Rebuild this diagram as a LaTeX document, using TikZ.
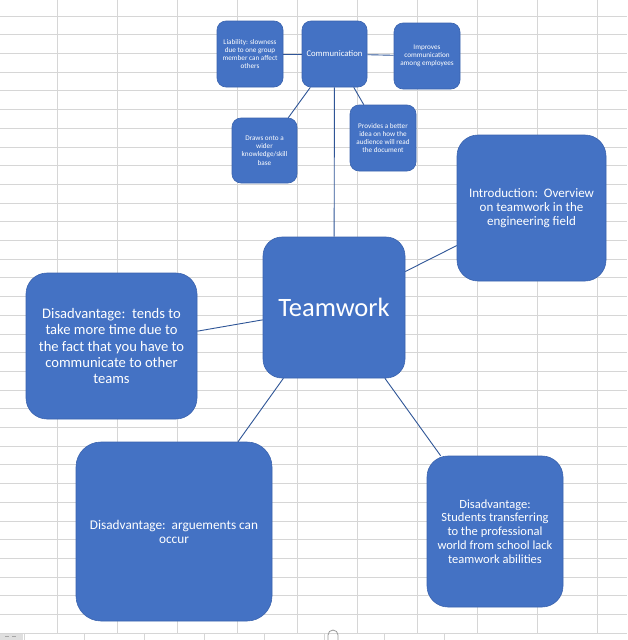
\documentclass[tikz,border=0pt]{standalone}
\usepackage{fontspec}
\setmainfont{Carlito}
\definecolor{boxblue}{HTML}{4472C4}
\definecolor{edgeblue}{HTML}{3A63AE}
\definecolor{linkblue}{HTML}{2F5597}
\definecolor{gridgray}{HTML}{D6D6D6}
\begin{document}
\begin{tikzpicture}[x=1pt,y=-1pt,
  sbox/.style={draw=edgeblue, line width=0.6pt, fill=boxblue, text=white, align=center,
    inner sep=0pt, rounded corners=9pt, font={\fontsize{7.2}{8.2}\selectfont}},
  bbox/.style={draw=edgeblue, line width=0.6pt, fill=boxblue, text=white, align=center,
    inner sep=0pt, rounded corners=21pt},
  link/.style={draw=linkblue, line width=0.9pt},
  grid line/.style={draw=gridgray, line width=0.8pt}]
\useasboundingbox (0,0) rectangle (627,640);
\fill[white] (0,0) rectangle (627,640);
% spreadsheet grid
\foreach \k in {0,...,33} {\draw[grid line] (0,16+18.7*\k) -- (627,16+18.7*\k);}
\foreach \k in {0,...,9} {\draw[grid line] (57+60*\k,0) -- (57+60*\k,633);}
% bottom bar
\fill[white] (0,634) rectangle (627,640);
\draw[grid line] (0,633.5) -- (444,633.5);
\foreach \k in {0,...,7} {\draw[grid line] (24+60*\k,633.5) -- (24+60*\k,640);}
\fill[gray!25] (0,634) rectangle (23,640);
\draw[gray!70, line width=0.8pt] (5,636.5) -- (9,636.5) (12,636.5) -- (16,636.5);
\draw[gray!80, line width=0.8pt] (328,640) -- (328,635) arc[start angle=180, end angle=0, x radius=5, y radius=-5] -- (338,640);
% top boxes
\node[sbox, minimum width=66pt, minimum height=66pt] (liab) at (250,54)
  {Liability: slowness\\due to one group\\member can affect\\others};
\node[sbox, minimum width=65pt, minimum height=66pt, font={\fontsize{8.7}{10}\selectfont}] (comm) at (334.5,54)
  {Communication};
\node[sbox, minimum width=66pt, minimum height=66pt] (impr) at (427,56)
  {Improves\\communication\\among employees};
\node[sbox, minimum width=65pt, minimum height=65pt] (draws) at (264.5,150.5)
  {Draws onto a\\wider\\knowledge/skill\\base};
\node[sbox, minimum width=66pt, minimum height=66pt] (prov) at (383,138)
  {Provides a better\\idea on how the\\audience will read\\the document};
% large boxes
\node[bbox, minimum width=149pt, minimum height=146pt, font={\fontsize{13}{13.8}\selectfont}] (intro) at (531.5,208)
  {Introduction:\ \ Overview\\on teamwork in the\\engineering field};
\node[bbox, rounded corners=19pt, minimum width=142pt, minimum height=141pt, font={\fontsize{26.5}{30}\selectfont}] (team) at (334,307.5)
  {Teamwork};
\node[bbox, minimum width=171pt, minimum height=146pt, font={\fontsize{14.6}{16.3}\selectfont}] (tends) at (111.5,346)
  {Disadvantage:\ \ tends to\\take more time due to\\the fact that you have to\\communicate to other\\teams};
\node[bbox, rounded corners=25pt, minimum width=196pt, minimum height=179pt, font={\fontsize{13.3}{14}\selectfont}] (argue) at (174,531.5)
  {Disadvantage:\ \ arguements can\\occur};
\node[bbox, minimum width=136pt, minimum height=151pt, font={\fontsize{12.5}{13.9}\selectfont}] (stud) at (495,531.5)
  {Disadvantage:\\Students transferring\\to the professional\\world from school lack\\teamwork abilities};
% connectors
\draw[link] (liab) -- (comm);
\draw[link] (comm) -- (impr);
\draw[link] (comm) -- (draws);
\draw[link] (comm) -- (prov);
\draw[link] (comm) -- (team);
\draw[link] (team) -- (intro);
\draw[link] (team) -- (tends);
\draw[link] (team) -- (argue);
\draw[link] (team) -- (stud);
\end{tikzpicture}
\end{document}
